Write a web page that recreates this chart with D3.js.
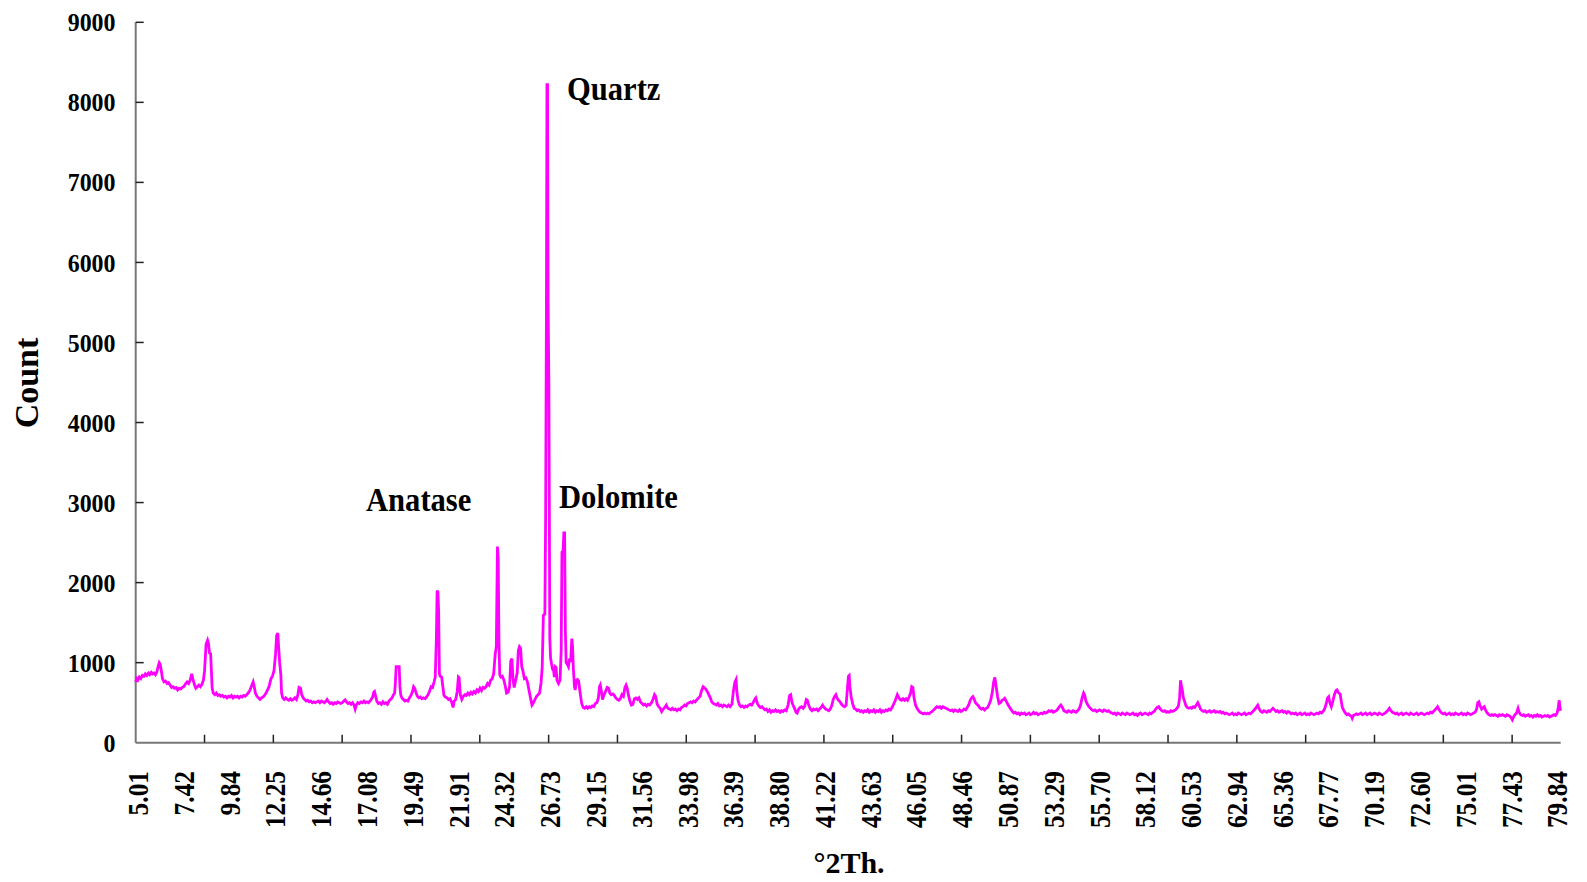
<!DOCTYPE html>
<html>
<head>
<meta charset="utf-8">
<script src="https://cdn.jsdelivr.net/npm/d3@7"></script>
<style>
  html, body { margin: 0; padding: 0; background: #fff; }
  svg { display: block; }
  text { font-family: "Liberation Serif", "Times New Roman", serif; font-weight: bold; fill: #000; }
</style>
</head>
<body>
<svg id="chart" width="1587" height="882"></svg>
<script>
// XRD scan: [°2θ, counts]
const scan = [
  [5.01,760],[5.06,800],[5.12,780],[5.2,820],[5.28,800],[5.36,840],[5.45,830],[5.52,860],[5.6,840],[5.68,870],
  [5.75,850],[5.83,880],[5.9,860],[5.98,870],[6.05,850],[6.12,880],[6.2,960],[6.25,1000],[6.3,980],[6.36,900],
  [6.42,800],[6.5,760],[6.58,770],[6.66,740],[6.74,750],[6.82,720],[6.9,690],[6.98,700],[7.06,680],[7.14,690],
  [7.22,660],[7.3,680],[7.38,670],[7.46,690],[7.54,700],[7.62,730],[7.72,760],[7.8,740],[7.88,780],[7.96,860],
  [8.02,800],[8.1,730],[8.18,680],[8.26,700],[8.34,720],[8.42,700],[8.5,730],[8.58,780],[8.64,900],[8.72,1230],
  [8.8,1280],[8.85,1240],[8.9,1120],[8.96,1110],[9.0,900],[9.04,680],[9.1,620],[9.18,600],[9.26,620],[9.34,590],
  [9.42,600],[9.5,580],[9.58,590],[9.66,570],[9.74,580],[9.82,560],[9.9,580],[9.98,570],[10.06,590],[10.14,560],
  [10.22,580],[10.3,570],[10.38,580],[10.46,560],[10.54,580],[10.62,570],[10.7,590],[10.78,580],[10.86,600],[10.94,620],
  [11.02,650],[11.1,700],[11.2,760],[11.26,700],[11.32,620],[11.4,580],[11.48,560],[11.56,540],[11.64,560],[11.72,570],
  [11.8,590],[11.88,620],[11.96,660],[12.04,700],[12.14,800],[12.22,830],[12.3,900],[12.38,1100],[12.44,1340],[12.5,1370],
  [12.55,1180],[12.6,1000],[12.66,850],[12.7,620],[12.76,560],[12.84,540],[12.92,560],[13.0,540],[13.08,530],[13.16,550],
  [13.24,530],[13.32,540],[13.4,560],[13.48,540],[13.56,600],[13.62,690],[13.7,680],[13.76,600],[13.84,560],[13.92,540],
  [14.0,520],[14.08,530],[14.16,510],[14.24,520],[14.32,500],[14.4,510],[14.48,500],[14.56,510],[14.64,520],[14.72,500],
  [14.8,520],[14.88,510],[14.96,500],[15.04,520],[15.1,540],[15.18,510],[15.26,490],[15.34,500],[15.42,480],[15.5,500],
  [15.58,490],[15.66,510],[15.74,500],[15.82,490],[15.9,500],[15.98,520],[16.05,535],[16.12,510],[16.2,490],[16.28,500],
  [16.36,480],[16.44,500],[16.52,470],[16.58,420],[16.64,470],[16.72,500],[16.8,490],[16.88,510],[16.96,500],[17.04,520],
  [17.12,500],[17.2,510],[17.28,500],[17.36,520],[17.42,540],[17.5,570],[17.56,630],[17.6,640],[17.66,580],[17.72,520],
  [17.8,490],[17.88,500],[17.96,480],[18.04,510],[18.12,490],[18.2,500],[18.28,480],[18.36,520],[18.44,540],[18.52,560],
  [18.6,600],[18.66,620],[18.7,750],[18.74,950],[18.82,950],[18.9,950],[18.94,700],[18.98,600],[19.04,560],[19.12,540],
  [19.2,520],[19.28,530],[19.36,520],[19.44,560],[19.52,590],[19.6,640],[19.66,700],[19.72,680],[19.78,630],[19.86,580],
  [19.94,560],[20.02,570],[20.1,550],[20.18,560],[20.26,550],[20.34,570],[20.42,600],[20.5,640],[20.58,700],[20.66,690],
  [20.74,760],[20.8,820],[20.86,1300],[20.9,1900],[20.94,1880],[20.98,1640],[21.02,860],[21.06,830],[21.14,820],[21.2,700],
  [21.26,590],[21.34,570],[21.42,560],[21.5,540],[21.58,550],[21.66,510],[21.74,440],[21.8,520],[21.88,540],[21.96,640],
  [22.02,820],[22.06,810],[22.12,600],[22.2,540],[22.28,580],[22.36,600],[22.44,590],[22.52,620],[22.6,600],[22.68,630],
  [22.76,610],[22.84,640],[22.92,620],[23.0,660],[23.08,640],[23.16,680],[23.24,650],[23.32,690],[23.4,680],[23.48,700],
  [23.56,740],[23.64,720],[23.72,780],[23.8,800],[23.88,860],[23.96,1100],[24.02,1200],[24.08,2450],[24.12,2300],[24.16,1250],
  [24.2,850],[24.26,820],[24.34,830],[24.42,780],[24.5,700],[24.56,620],[24.64,630],[24.72,700],[24.78,1020],[24.84,1050],
  [24.9,800],[24.96,690],[25.04,780],[25.12,870],[25.18,1150],[25.24,1200],[25.3,1180],[25.36,950],[25.42,900],[25.5,800],
  [25.58,810],[25.66,760],[25.74,660],[25.82,560],[25.9,470],[25.98,500],[26.06,540],[26.14,580],[26.22,600],[26.3,620],
  [26.38,750],[26.44,950],[26.5,1590],[26.58,1610],[26.62,2800],[26.66,5300],[26.69,8220],[26.72,8220],[26.75,5500],[26.79,4500],
  [26.84,1300],[26.88,1060],[26.92,1000],[26.98,920],[27.04,900],[27.08,820],[27.12,950],[27.17,940],[27.22,780],[27.3,740],
  [27.38,780],[27.44,1150],[27.48,2380],[27.54,2400],[27.58,2620],[27.62,2620],[27.66,1400],[27.7,1000],[27.76,980],[27.82,950],
  [27.88,1050],[27.94,1010],[28.0,1300],[28.04,1200],[28.08,930],[28.14,700],[28.18,660],[28.24,780],[28.3,790],[28.36,770],
  [28.44,620],[28.52,490],[28.6,440],[28.68,430],[28.76,450],[28.84,430],[28.92,450],[29.0,440],[29.08,460],[29.16,450],
  [29.24,490],[29.32,500],[29.4,560],[29.46,700],[29.5,720],[29.56,640],[29.62,540],[29.7,600],[29.78,640],[29.86,690],
  [29.94,680],[30.0,620],[30.08,600],[30.16,610],[30.24,590],[30.32,560],[30.4,540],[30.48,530],[30.56,550],[30.64,600],
  [30.72,580],[30.8,690],[30.86,720],[30.92,680],[30.98,600],[31.06,520],[31.14,470],[31.22,480],[31.3,550],[31.38,560],
  [31.46,540],[31.54,560],[31.62,510],[31.7,490],[31.78,470],[31.86,480],[31.94,460],[32.02,480],[32.1,470],[32.2,500],
  [32.28,540],[32.36,600],[32.42,580],[32.5,480],[32.58,450],[32.66,430],[32.74,390],[32.82,420],[32.9,440],[32.98,470],
  [33.06,430],[33.14,420],[33.22,410],[33.3,430],[33.38,410],[33.46,420],[33.54,400],[33.62,420],[33.7,410],[33.78,440],
  [33.86,450],[33.94,470],[34.02,460],[34.1,490],[34.18,500],[34.26,510],[34.34,500],[34.42,520],[34.5,510],[34.6,540],
  [34.68,560],[34.76,580],[34.84,650],[34.92,700],[34.98,690],[35.06,670],[35.14,640],[35.22,600],[35.3,560],[35.38,510],
  [35.46,490],[35.54,480],[35.62,470],[35.7,490],[35.78,460],[35.86,470],[35.94,450],[36.02,470],[36.1,460],[36.18,450],
  [36.26,470],[36.34,450],[36.44,480],[36.52,650],[36.6,760],[36.66,790],[36.7,640],[36.76,530],[36.84,470],[36.92,450],
  [37.0,460],[37.08,440],[37.16,460],[37.24,450],[37.32,470],[37.4,480],[37.48,470],[37.56,500],[37.64,540],[37.7,560],
  [37.78,490],[37.86,460],[37.94,440],[38.02,450],[38.1,430],[38.18,410],[38.26,420],[38.34,390],[38.42,410],[38.5,380],
  [38.58,400],[38.66,390],[38.74,410],[38.82,390],[38.9,400],[38.98,380],[39.06,400],[39.14,390],[39.22,410],[39.3,400],
  [39.4,470],[39.48,590],[39.54,600],[39.6,510],[39.66,470],[39.74,430],[39.82,380],[39.88,370],[39.96,420],[40.04,440],
  [40.12,450],[40.2,430],[40.28,460],[40.36,540],[40.42,530],[40.5,460],[40.58,420],[40.66,400],[40.74,420],[40.82,410],
  [40.9,420],[40.98,400],[41.06,420],[41.14,440],[41.22,470],[41.3,440],[41.38,420],[41.46,410],[41.54,400],[41.62,420],
  [41.7,460],[41.78,540],[41.86,580],[41.92,600],[41.98,560],[42.06,530],[42.14,510],[42.22,480],[42.3,460],[42.38,450],
  [42.46,470],[42.52,650],[42.58,830],[42.62,840],[42.66,700],[42.72,580],[42.8,490],[42.88,430],[42.96,420],[43.04,400],
  [43.12,410],[43.2,390],[43.28,400],[43.36,380],[43.44,400],[43.52,390],[43.6,410],[43.68,380],[43.76,400],[43.84,390],
  [43.92,410],[44.0,380],[44.08,400],[44.16,390],[44.24,410],[44.32,380],[44.4,400],[44.48,390],[44.56,410],[44.64,400],
  [44.72,420],[44.8,410],[44.88,440],[44.96,480],[45.04,520],[45.1,560],[45.16,600],[45.22,570],[45.3,540],[45.38,530],
  [45.46,550],[45.54,530],[45.62,550],[45.7,530],[45.78,570],[45.86,620],[45.92,700],[45.98,690],[46.04,560],[46.12,470],
  [46.2,430],[46.28,400],[46.36,380],[46.44,370],[46.52,360],[46.6,370],[46.68,360],[46.76,370],[46.84,360],[46.92,380],
  [47.0,390],[47.08,410],[47.16,430],[47.24,450],[47.32,440],[47.4,450],[47.48,430],[47.56,450],[47.64,440],[47.72,430],
  [47.8,420],[47.88,410],[47.96,400],[48.04,410],[48.12,390],[48.2,410],[48.28,400],[48.36,390],[48.44,410],[48.52,390],
  [48.6,400],[48.68,420],[48.76,410],[48.84,440],[48.92,470],[49.0,530],[49.08,560],[49.14,575],[49.2,550],[49.28,500],
  [49.36,480],[49.44,460],[49.52,430],[49.6,420],[49.68,430],[49.76,410],[49.84,430],[49.92,440],[50.0,480],[50.08,530],
  [50.16,620],[50.24,760],[50.3,815],[50.36,720],[50.44,580],[50.52,490],[50.6,500],[50.68,530],[50.76,540],[50.82,555],
  [50.9,520],[50.98,480],[51.06,450],[51.14,420],[51.22,390],[51.3,370],[51.38,380],[51.46,360],[51.54,370],[51.62,350],
  [51.7,370],[51.78,360],[51.86,370],[51.94,350],[52.02,360],[52.1,370],[52.18,350],[52.26,360],[52.34,380],[52.42,360],
  [52.5,370],[52.58,350],[52.66,360],[52.74,370],[52.82,360],[52.9,380],[52.98,370],[53.06,380],[53.14,400],[53.22,390],
  [53.3,400],[53.38,380],[53.46,390],[53.54,400],[53.62,420],[53.7,450],[53.78,470],[53.86,440],[53.94,400],[54.02,390],
  [54.1,380],[54.18,400],[54.26,390],[54.34,380],[54.42,400],[54.5,390],[54.58,380],[54.66,400],[54.74,420],[54.82,470],
  [54.9,560],[54.98,620],[55.04,590],[55.1,520],[55.18,480],[55.26,450],[55.34,430],[55.42,410],[55.5,400],[55.58,410],
  [55.66,390],[55.74,400],[55.82,410],[55.9,400],[55.98,390],[56.06,410],[56.14,400],[56.22,390],[56.3,400],[56.38,380],
  [56.46,370],[56.54,360],[56.62,370],[56.7,350],[56.78,370],[56.86,360],[56.94,350],[57.02,370],[57.1,360],[57.18,350],
  [57.26,370],[57.34,360],[57.42,350],[57.5,360],[57.58,370],[57.66,350],[57.74,360],[57.82,340],[57.9,360],[57.98,370],
  [58.06,350],[58.14,360],[58.22,370],[58.3,360],[58.38,350],[58.46,370],[58.54,360],[58.62,380],[58.7,390],[58.78,420],
  [58.86,440],[58.94,450],[59.02,420],[59.1,400],[59.18,390],[59.26,400],[59.34,380],[59.42,390],[59.5,380],[59.58,400],
  [59.66,390],[59.74,400],[59.82,410],[59.9,430],[59.98,460],[60.04,560],[60.09,780],[60.14,700],[60.18,660],[60.24,560],
  [60.3,520],[60.36,470],[60.44,440],[60.52,430],[60.6,440],[60.68,430],[60.76,450],[60.84,440],[60.92,470],[61.0,500],
  [61.06,470],[61.14,420],[61.22,400],[61.3,390],[61.38,400],[61.46,380],[61.54,390],[61.62,400],[61.7,380],[61.78,390],
  [61.86,400],[61.94,380],[62.02,390],[62.1,380],[62.18,390],[62.26,370],[62.34,380],[62.42,360],[62.5,370],[62.58,360],
  [62.66,350],[62.74,360],[62.82,370],[62.9,350],[62.98,360],[63.06,350],[63.14,370],[63.22,360],[63.3,350],[63.38,360],
  [63.46,370],[63.54,350],[63.62,360],[63.7,370],[63.78,360],[63.86,380],[63.94,400],[64.02,420],[64.1,450],[64.16,470],
  [64.24,420],[64.32,390],[64.4,380],[64.48,400],[64.56,390],[64.64,380],[64.72,400],[64.8,390],[64.88,410],[64.96,430],
  [65.04,410],[65.12,390],[65.2,400],[65.28,380],[65.36,390],[65.44,400],[65.52,380],[65.6,390],[65.68,370],[65.76,390],
  [65.84,380],[65.92,360],[66.0,370],[66.08,360],[66.16,370],[66.24,350],[66.32,360],[66.4,370],[66.48,350],[66.56,360],
  [66.64,370],[66.72,350],[66.8,360],[66.88,350],[66.96,370],[67.04,360],[67.12,350],[67.2,360],[67.28,370],[67.36,360],
  [67.44,380],[67.52,370],[67.6,390],[67.68,420],[67.76,480],[67.84,560],[67.9,575],[67.96,500],[68.04,450],[68.12,520],
  [68.2,600],[68.28,650],[68.34,660],[68.42,620],[68.5,610],[68.56,520],[68.62,440],[68.7,400],[68.78,370],[68.86,350],
  [68.94,360],[69.02,340],[69.1,330],[69.14,305],[69.2,340],[69.28,350],[69.36,360],[69.44,350],[69.52,360],[69.6,370],
  [69.68,350],[69.76,360],[69.84,370],[69.92,350],[70.0,360],[70.08,370],[70.16,350],[70.24,360],[70.32,370],[70.4,360],
  [70.48,350],[70.56,370],[70.64,360],[70.72,350],[70.8,360],[70.88,370],[70.96,390],[71.04,410],[71.1,430],[71.18,400],
  [71.26,380],[71.34,370],[71.42,360],[71.5,370],[71.58,350],[71.66,360],[71.74,370],[71.82,350],[71.9,360],[71.98,370],
  [72.06,360],[72.14,350],[72.22,370],[72.3,360],[72.38,350],[72.46,360],[72.54,370],[72.62,350],[72.7,360],[72.78,370],
  [72.86,360],[72.94,350],[73.02,360],[73.1,370],[73.18,360],[73.26,380],[73.34,370],[73.42,390],[73.5,410],[73.58,430],
  [73.64,450],[73.7,420],[73.78,390],[73.86,370],[73.94,360],[74.02,370],[74.1,350],[74.18,360],[74.26,370],[74.34,350],
  [74.42,360],[74.5,350],[74.58,370],[74.66,360],[74.74,350],[74.82,360],[74.9,370],[74.98,350],[75.06,360],[75.14,350],
  [75.22,370],[75.3,360],[75.38,350],[75.46,360],[75.54,370],[75.62,380],[75.7,420],[75.76,500],[75.82,510],[75.88,460],
  [75.96,420],[76.04,440],[76.1,450],[76.18,400],[76.26,370],[76.34,350],[76.42,340],[76.5,350],[76.58,340],[76.66,350],
  [76.74,340],[76.82,330],[76.9,350],[76.98,340],[77.06,350],[77.14,340],[77.22,330],[77.3,350],[77.38,340],[77.46,330],
  [77.52,310],[77.58,285],[77.64,320],[77.72,350],[77.8,370],[77.88,430],[77.94,380],[78.02,350],[78.1,340],[78.18,350],
  [78.26,330],[78.34,340],[78.42,350],[78.5,330],[78.58,340],[78.66,320],[78.74,340],[78.82,330],[78.9,350],[78.98,330],
  [79.06,340],[79.14,320],[79.22,330],[79.3,340],[79.38,330],[79.46,340],[79.54,320],[79.62,330],[79.7,340],[79.78,350],
  [79.86,340],[79.94,370],[80.0,440],[80.05,530],[80.1,420],[80.14,400]
];

const xTickLabels = ["5.01","7.42","9.84","12.25","14.66","17.08","19.49","21.91","24.32","26.73","29.15",
  "31.56","33.98","36.39","38.80","41.22","43.63","46.05","48.46","50.87","53.29","55.70","58.12","60.53",
  "62.94","65.36","67.77","70.19","72.60","75.01","77.43","79.84"];
const yTicks = [0, 1000, 2000, 3000, 4000, 5000, 6000, 7000, 8000, 9000];
const xRange = [5.01, 80.13];
const xMarkStep = 3.628;          // spacing of the tick marks on the 2θ axis
const phaseNames = ["Quartz", "Anatase", "Dolomite"];

const svg = d3.select("#chart");
const plot = { left: 135.7, right: 1560.7, top: 22.3, bottom: 742.7 };

const x = d3.scaleLinear().domain(xRange).range([plot.left, plot.right]);
const y = d3.scaleLinear().domain([0, 9000]).range([plot.bottom, plot.top]);

// axis lines
svg.append("line").attr("x1", plot.left).attr("x2", plot.left).attr("y1", plot.top).attr("y2", plot.bottom)
  .attr("stroke", "#777").attr("stroke-width", 2);
svg.append("line").attr("x1", plot.left).attr("x2", plot.right).attr("y1", plot.bottom).attr("y2", plot.bottom)
  .attr("stroke", "#777").attr("stroke-width", 2);

// y ticks (pointing into the plot) and labels
const yg = svg.append("g");
yg.selectAll("line").data(yTicks.filter(d => d > 0)).join("line")
  .attr("x1", plot.left).attr("x2", plot.left + 8)
  .attr("y1", d => y(d)).attr("y2", d => y(d))
  .attr("stroke", "#222").attr("stroke-width", 1.5);
yg.selectAll("text").data(yTicks).join("text")
  .attr("transform", d => `translate(115.5,${y(d)}) scale(0.92,1)`)
  .attr("dy", "0.35em")
  .attr("text-anchor", "end").attr("font-size", 26)
  .text(d => d);

// x tick marks
const marks = d3.range(1, 21).map(i => xRange[0] + i * xMarkStep);
svg.append("g").selectAll("line").data(marks).join("line")
  .attr("x1", d => x(d)).attr("x2", d => x(d))
  .attr("y1", plot.bottom).attr("y2", plot.bottom - 8)
  .attr("stroke", "#222").attr("stroke-width", 1.5);

// x tick labels, rotated
svg.append("g").selectAll("text").data(xTickLabels).join("text")
  .attr("transform", d => `translate(${x(+d)},771) rotate(-90) scale(0.89,1)`)
  .attr("text-anchor", "end").attr("dy", "0.43em")
  .attr("font-size", 28.5)
  .text(d => d);

// axis titles
svg.append("text").attr("transform", "translate(38,383) rotate(-90)")
  .attr("text-anchor", "middle").attr("font-size", 34).text("Count");
svg.append("text").attr("x", 849).attr("y", 873)
  .attr("text-anchor", "middle").attr("font-size", 30).text("°2Th.");

// diffraction pattern
const line = d3.line().x(d => x(d[0])).y(d => y(d[1]));
svg.append("path").datum(scan)
  .attr("d", line)
  .attr("fill", "none")
  .attr("stroke", "#ff00ff")
  .attr("stroke-width", 2.8)
  .attr("stroke-linejoin", "miter");

// phase annotations
const labelPos = { Quartz: [567, 100], Anatase: [366, 511], Dolomite: [559, 508] };
svg.append("g").selectAll("text").data(phaseNames).join("text")
  .attr("transform", d => `translate(${labelPos[d][0]},${labelPos[d][1]}) scale(0.9,1)`)
  .attr("font-size", 34)
  .text(d => d);
</script>
</body>
</html>
